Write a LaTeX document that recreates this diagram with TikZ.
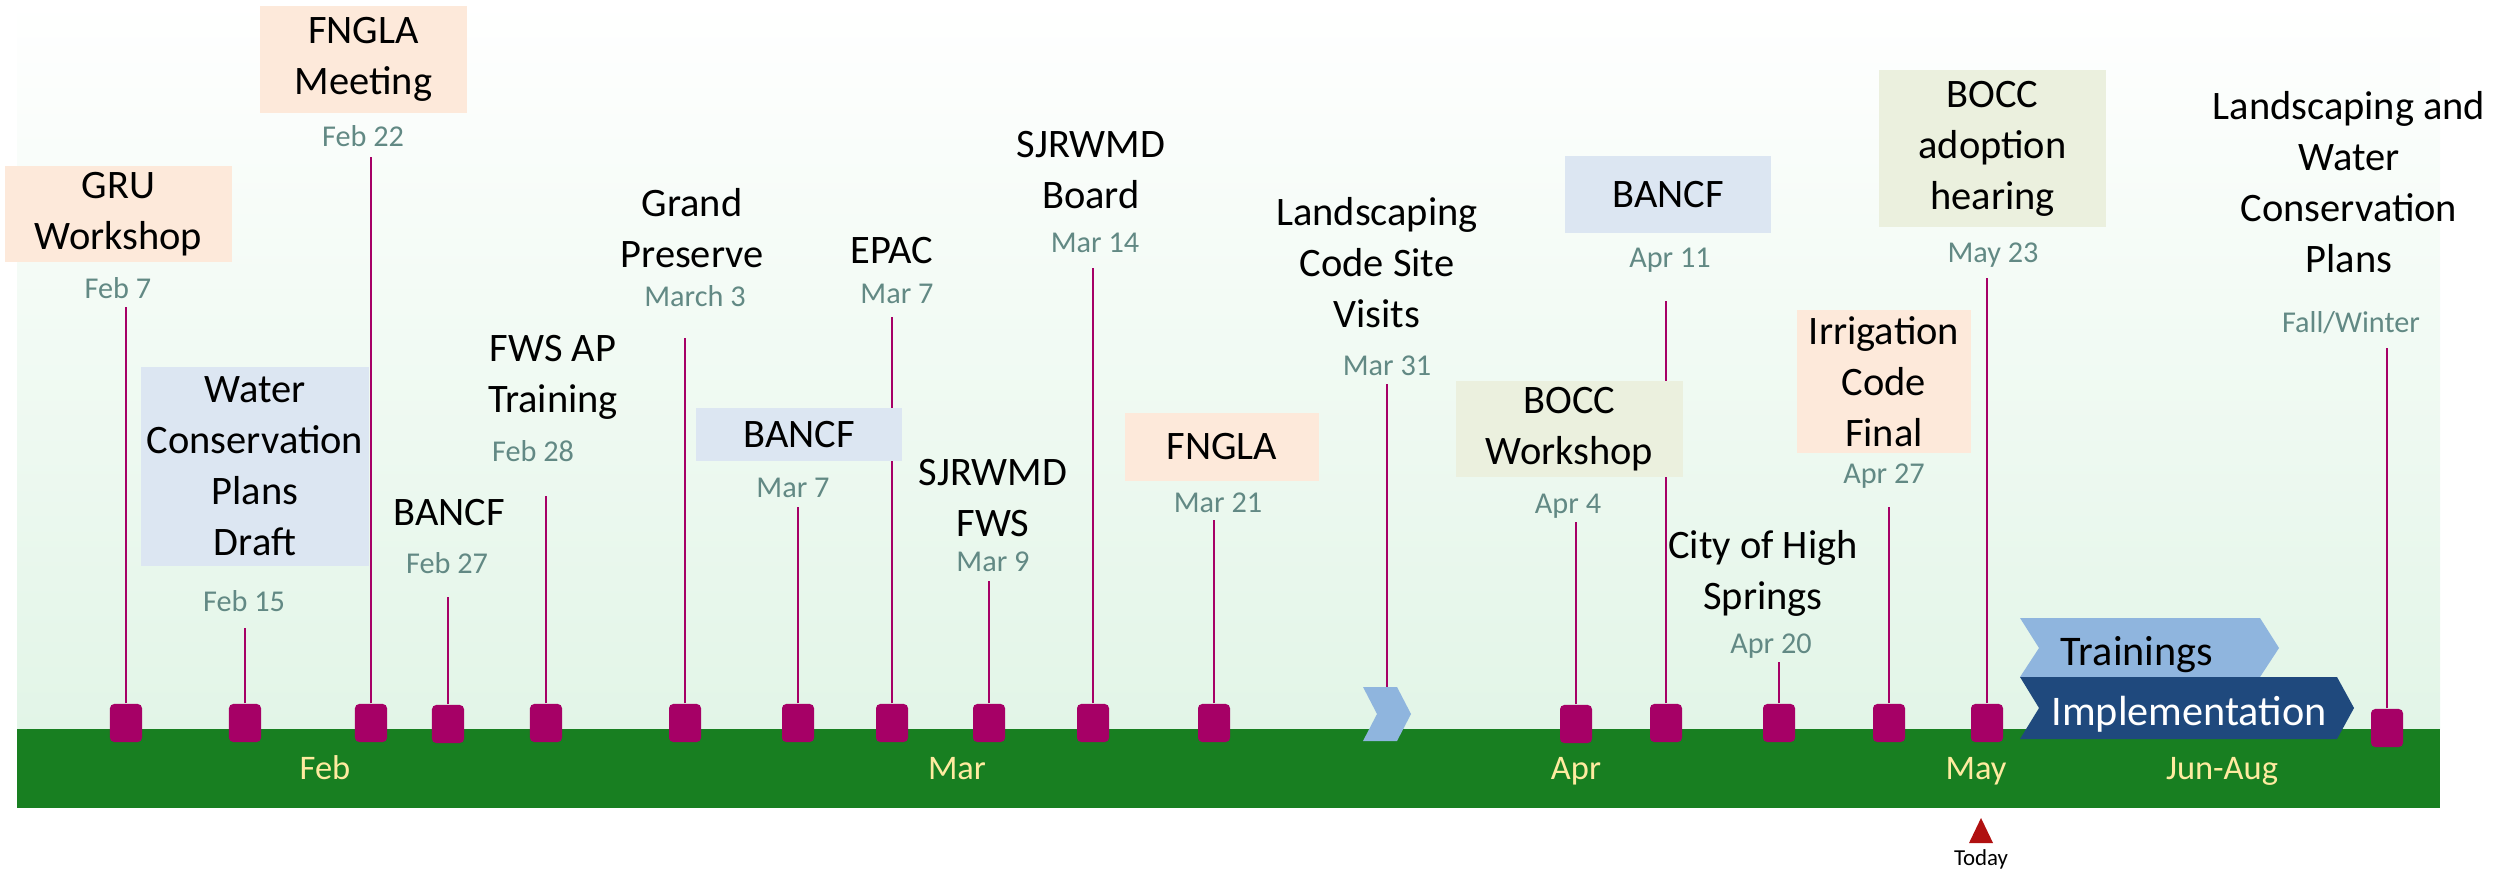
\documentclass[tikz,border=0pt]{standalone}
\usepackage{fontspec}
\setmainfont{Carlito}
\definecolor{bggreen}{RGB}{226,245,231}
\definecolor{bandgreen}{RGB}{24,127,33}
\definecolor{evtmagenta}{RGB}{166,0,102}
\definecolor{dategray}{RGB}{98,137,132}
\definecolor{peach}{RGB}{253,233,218}
\definecolor{paleblue}{RGB}{220,230,242}
\definecolor{paleolive}{RGB}{235,240,222}
\definecolor{chevblue}{RGB}{143,181,222}
\definecolor{implblue}{RGB}{31,73,125}
\definecolor{todayred}{RGB}{176,16,16}
\definecolor{monthyellow}{RGB}{255,235,160}

\begin{document}
\begin{tikzpicture}[x=0.01cm, y=-0.01cm,
		marker/.style={fill=evtmagenta, rounded corners=1.2pt, minimum width=3.2mm, minimum height=3.8mm, inner sep=0pt},
		stem/.style={draw=evtmagenta, line width=0.6pt},
		date/.style={text=dategray, font=\fontsize{8.6}{10}\selectfont, anchor=base, inner sep=0pt},
		lbl/.style={align=center, font=\fontsize{11.5}{14.5}\selectfont, inner sep=0pt},
		month/.style={text=monthyellow, font=\fontsize{9.8}{12}\selectfont, anchor=base, inner sep=0pt}]
		\useasboundingbox (0,0) rectangle (2497,873);
		\shade[top color=white, bottom color=bggreen] (17,0) rectangle (2440,729);
		\fill[bandgreen] (17,729) rectangle (2440,808);
		
		\foreach \x/\y/\top [count=\i] in {126/723/307, 245/723/628, 371/723/157, 448/724/597, 546/723/496,
				685/723/338, 798/723/507, 892/723/317, 989/723/581, 1093/723/268, 1214/723/520,
				1576/724/522, 1666/723/301, 1779/723/662, 1889/723/507, 1987/723/278, 2387/728/348} {
			\coordinate (t\i) at (\x,\top);
			\node[marker] (m\i) at (\x,\y) {};
			\draw[stem] (m\i.north) -- (t\i);
		}
		
		\coordinate (vis) at (1387,687);
		\coordinate (vistop) at (1387,384);
		\draw[stem] (vis) -- (vistop);
		\fill[chevblue] (1363,687) -- (1397,687) -- (1411,714) -- (1397,741) -- (1363,741) -- (1377,714) -- cycle;
		\fill[chevblue] (2020,618) -- (2260,618) -- (2279,648) -- (2260,677) -- (2020,677) -- (2039,648) -- cycle;
		\fill[implblue] (2020,677) -- (2337,677) -- (2354,708) -- (2337,739) -- (2020,739) -- (2039,708) -- cycle;
		\node[font=\fontsize{12}{14}\selectfont, anchor=base, inner sep=0pt] (train) at (2137,665) {Trainings};
		\node[font=\fontsize{12}{14}\selectfont, anchor=base, inner sep=0pt, text=white] (impl) at (2189,725) {Implementation};
		
		% boxed events
		\node[lbl, fill=peach, minimum width=22.7mm, minimum height=9.6mm] (gru) at (118.5,214) {GRU\\Workshop};
		\node[lbl, fill=peach, minimum width=20.7mm, minimum height=10.7mm] (fngla1) at (363.5,59.5) {FNGLA\\Meeting};
		\node[lbl, fill=paleblue, minimum width=22.8mm, minimum height=19.9mm] (wcp) at (255,466.5) {Water\\Conservation\\Plans\\Draft};
		\node[lbl, fill=paleblue, minimum width=20.6mm, minimum height=5.3mm] (bancf2) at (799,434.5) {BANCF};
		\node[lbl, fill=peach, minimum width=19.3mm, minimum height=6.8mm] (fngla2) at (1222,447) {FNGLA};
		\node[lbl, fill=paleblue, minimum width=20.6mm, minimum height=7.7mm] (bancf3) at (1668,194.5) {BANCF};
		\node[lbl, fill=paleolive, minimum width=22.7mm, minimum height=9.6mm] (boccw) at (1569.5,429) {BOCC\\Workshop};
		\node[lbl, fill=peach, minimum width=17.4mm, minimum height=14.3mm] (irr) at (1884,381.5) {Irrigation\\Code\\Final};
		\node[lbl, fill=paleolive, minimum width=22.7mm, minimum height=15.7mm] (bocca) at (1992.5,148.5) {BOCC\\adoption\\hearing};
		
		% plain events
		\node[lbl] (bancf1) at (449,513) {BANCF};
		\node[lbl] (fws) at (553,377) {FWS AP\\Training};
		\node[lbl] (grand) at (692,228) {Grand\\Preserve};
		\node[lbl] (epac) at (892,251) {EPAC};
		\node[lbl] (sjfws) at (993,498) {SJRWMD\\FWS};
		\node[lbl] (sjboard) at (1091,170) {SJRWMD\\Board};
		\node[lbl] (sites) at (1377,263) {Landscaping\\Code Site\\Visits};
		\node[lbl] (high) at (1763,573) {City of High\\Springs};
		\node[lbl] (plans) at (2349,182) {Landscaping and\\Water\\Conservation\\Plans};
		
		\foreach \x/\y/\d [count=\i] in {118/298/Feb 7, 363/147/Feb 22, 244/611/Feb 15, 447/573/Feb 27, 533/461/Feb 28,
				695/307/March 3, 897/304/Mar 7, 793/497/Mar 7, 993/571/Mar 9, 1095/252/Mar 14, 1218/512/Mar 21,
				1387/375/Mar 31, 1670/268/Apr 11, 1568/513/Apr 4, 1884/483/Apr 27, 1771/653/Apr 20,
				1993/262/May 23, 2351/332/{Fall/Winter}}
			\node[date] (d\i) at (\x,\y) {\d};
		
		\foreach \x/\m [count=\i] in {325/Feb, 957/Mar, 1576/Apr, 1976/May, 2222/Jun-Aug}
			\node[month] (mo\i) at (\x,779) {\m};
		
		\fill[todayred] (1969,843) -- (1981,818) -- (1993,843) -- cycle;
		\node[font=\fontsize{6.5}{8}\selectfont, anchor=base, inner sep=0pt] (today) at (1981,865) {Today};
	\end{tikzpicture}
\end{document}
